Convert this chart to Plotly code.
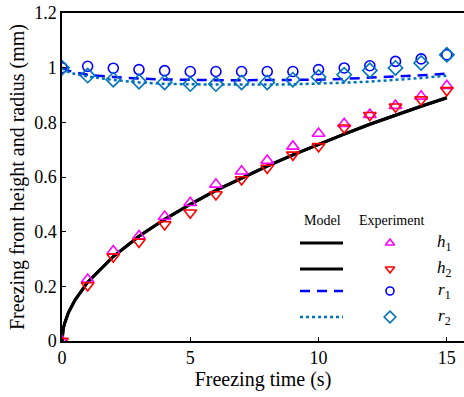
import plotly.graph_objects as go

# ---- data ----
t_exp = [0, 1, 2, 3, 4, 5, 6, 7, 8, 9, 10, 11, 12, 13, 14, 15]
h1_exp = [0.0, 0.225, 0.329, 0.384, 0.455, 0.506, 0.573, 0.621, 0.660, 0.712, 0.759, 0.795, 0.828, 0.861, 0.895, 0.934]
h2_exp = [0.0, 0.203, 0.308, 0.362, 0.426, 0.469, 0.536, 0.591, 0.633, 0.681, 0.712, 0.780, 0.826, 0.857, 0.883, 0.917]
r1_exp = [1.0, 1.005, 0.998, 0.993, 0.989, 0.986, 0.986, 0.986, 0.986, 0.986, 0.993, 0.999, 1.007, 1.023, 1.032, 1.047]
r2_exp = [1.0, 0.971, 0.956, 0.949, 0.946, 0.940, 0.940, 0.946, 0.946, 0.956, 0.966, 0.974, 0.990, 0.999, 1.017, 1.047]

t_model = [0, 0.02, 0.05, 0.1, 0.25, 0.5, 1, 2, 3, 4, 5, 6, 7, 8, 9, 10, 11, 12, 13, 14, 15]
h_model = [0, 0.028, 0.045, 0.064, 0.104, 0.149, 0.215, 0.309, 0.383, 0.445, 0.500, 0.551, 0.597,
           0.640, 0.681, 0.720, 0.757, 0.793, 0.827, 0.859, 0.890]
r1_model = [1.0, 0.999, 0.997, 0.994, 0.989, 0.983, 0.974, 0.966, 0.960, 0.957, 0.955, 0.954, 0.954,
            0.954, 0.955, 0.956, 0.959, 0.963, 0.967, 0.972, 0.978]
r2_model = [1.0, 0.998, 0.995, 0.991, 0.984, 0.977, 0.968, 0.955, 0.946, 0.941, 0.939, 0.938, 0.938,
            0.938, 0.939, 0.941, 0.945, 0.949, 0.955, 0.962, 0.971]

x_ticks = [0, 5, 10, 15]
y_ticks = [0, 0.2, 0.4, 0.6, 0.8, 1.0, 1.2]
y_tick_text = ["0", "0.2", "0.4", "0.6", "0.8", "1", "1.2"]

legend_labels = ["<i>h</i><sub>1</sub>", "<i>h</i><sub>2</sub>", "<i>r</i><sub>1</sub>", "<i>r</i><sub>2</sub>"]

MAG = "#FF00FF"
RED = "#FF0000"
BLUE = "#0000FF"
MBLUE = "#0072BD"
FONT = "Liberation Serif, Times New Roman, serif"

fig = go.Figure()

# model curves
fig.add_trace(go.Scatter(x=t_model, y=h_model, mode="lines", line=dict(color="black", width=3)))
fig.add_trace(go.Scatter(x=t_model, y=h_model, mode="lines", line=dict(color="black", width=3)))
fig.add_trace(go.Scatter(x=t_model, y=r1_model, mode="lines",
                         line=dict(color=BLUE, width=2.5, dash="10px,7px")))
fig.add_trace(go.Scatter(x=t_model, y=r2_model, mode="lines",
                         line=dict(color=MBLUE, width=2.5, dash="3px,3px")))

# experiment markers
def mk(sym, col, size=9):
    return dict(symbol=sym, size=size, color=col, line=dict(color=col, width=1.6))

fig.add_trace(go.Scatter(x=t_exp, y=r1_exp, mode="markers", marker=mk("circle-open", BLUE, 10)))
fig.add_trace(go.Scatter(x=t_exp, y=r2_exp, mode="markers", marker=mk("diamond-open", MBLUE, 11)))
fig.add_trace(go.Scatter(x=t_exp, y=h1_exp, mode="markers", marker=mk("triangle-up-open", MAG, 11)))
fig.add_trace(go.Scatter(x=t_exp, y=h2_exp, mode="markers", marker=mk("triangle-down-open", RED, 11)))

# ---- custom legend on an overlay axis (0..1 in plot area) ----
W, H = 464, 397
L, R, T, B = 62, 0, 13, 56
pw, ph = W - L - R, H - T - B

def px2x(p):
    return (p - L) / pw

def py2y(p):
    return 1 - (p - T) / ph

def ann(x, y, text, size):
    fig.add_annotation(x=x, y=y, xref="paper", yref="paper", text=text, showarrow=False,
                       xanchor="center", yanchor="middle",
                       font=dict(family=FONT, size=size, color="black"))

row_y = [243, 269, 291, 317]
line_x0, line_x1 = px2x(300), px2x(343)
mark_x = px2x(390)
lab_x = px2x(444)

legend_lines = [dict(color="black", width=3), dict(color="black", width=3),
                dict(color=BLUE, width=2.5, dash="10px,7px"), dict(color=MBLUE, width=2.5, dash="3px,3px")]
legend_marks = [mk("triangle-up-open", MAG, 8), mk("triangle-down-open", RED, 8),
                mk("circle-open", BLUE, 8), mk("diamond-open", MBLUE, 9)]

for i in range(4):
    yy = py2y(row_y[i])
    fig.add_trace(go.Scatter(x=[line_x0, line_x1], y=[yy, yy], mode="lines", line=legend_lines[i],
                             xaxis="x2", yaxis="y2"))
    fig.add_trace(go.Scatter(x=[mark_x], y=[yy], mode="markers", marker=legend_marks[i],
                             xaxis="x2", yaxis="y2"))
    ann(lab_x, yy, legend_labels[i], 17)

ann(px2x(322), py2y(220), "Model", 14)
ann(px2x(391), py2y(220), "Experiment", 14)

fig.update_layout(
    width=W, height=H,
    margin=dict(l=L, r=R, t=T, b=B),
    paper_bgcolor="white", plot_bgcolor="white",
    showlegend=False,
    font=dict(family=FONT, size=18, color="black"),
    xaxis=dict(range=[0, 15.67], tickvals=x_ticks, ticks="inside", ticklen=4, tickwidth=1,
               tickcolor="black", showline=True, linecolor="black", linewidth=1.5, mirror=True,
               showgrid=False, zeroline=False,
               tickfont=dict(family=FONT, size=18, color="black"),
               title=dict(text="Freezing time (s)", font=dict(family=FONT, size=20, color="black"), standoff=4)),
    yaxis=dict(range=[0, 1.2], tickvals=y_ticks, ticktext=y_tick_text, ticks="inside", ticklen=4,
               tickwidth=1, tickcolor="black", showline=True, linecolor="black", linewidth=1.5,
               showgrid=False, zeroline=False,
               tickfont=dict(family=FONT, size=18, color="black"),
               title=dict(text="Freezing front height and radius (mm)",
                          font=dict(family=FONT, size=20, color="black"), standoff=4)),
    xaxis2=dict(range=[0, 1], overlaying="x", visible=False),
    yaxis2=dict(range=[0, 1], overlaying="y", visible=False),
)

fig.write_html("out.html")
